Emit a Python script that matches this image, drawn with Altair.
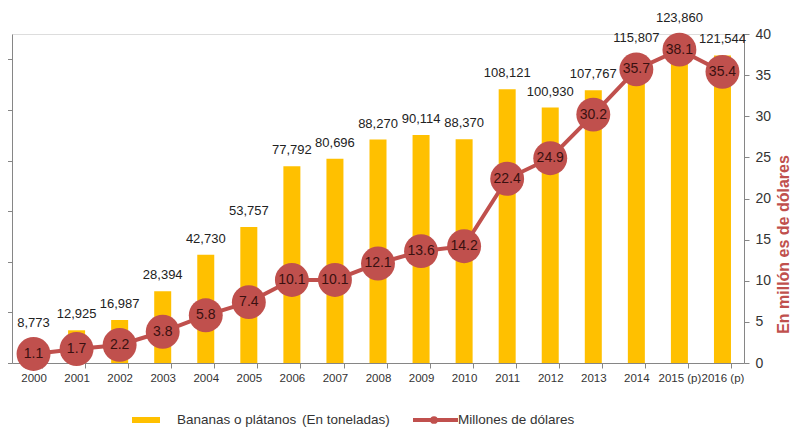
import altair as alt
import pandas as pd

years = ["2000", "2001", "2002", "2003", "2004", "2005", "2006", "2007", "2008",
         "2009", "2010", "2011", "2012", "2013", "2014", "2015 (p)", "2016 (p)"]
toneladas = [8773, 12925, 16987, 28394, 42730, 53757, 77792, 80696, 88270,
             90114, 88370, 108121, 100930, 107767, 115807, 123860, 121544]
millones = [1.1, 1.7, 2.2, 3.8, 5.8, 7.4, 10.1, 10.1, 12.1,
            13.6, 14.2, 22.4, 24.9, 30.2, 35.7, 38.1, 35.4]

left_ticks = [0, 20000, 40000, 60000, 80000, 100000, 120000]
right_ticks = [0, 5, 10, 15, 20, 25, 30, 35, 40]

legend_bar = "Bananas o plátanos"
legend_bar_unit = "(En toneladas)"
legend_line = "Millones de dólares"
right_title = "En millón es de dólares"

df = pd.DataFrame({"year": years, "ton": toneladas, "usd": millones})
df["ton_label"] = [f"{v:,}" for v in toneladas]
df["usd_label"] = [f"{v:.1f}" for v in millones]

GOLD = "#FFC000"
RED = "#C0504D"
GRAY = "#868686"
FONT = "Liberation Sans"

LEFT_MAX = 130000
RIGHT_MAX = 40

x_enc = alt.X("year:N", sort=years, title=None,
              scale=alt.Scale(paddingInner=0.6, paddingOuter=0.3),
              axis=alt.Axis(labelAngle=0, labelFontSize=11.5, labelColor="#333333",
                            domainColor=GRAY, tickColor=GRAY, tickSize=5,
                            tickBand="extent", labelPadding=4, labelFont=FONT))

base = alt.Chart(df)

y_left = alt.Y("ton:Q", title=None,
               scale=alt.Scale(domain=[0, LEFT_MAX], nice=False),
               axis=alt.Axis(values=left_ticks, labels=False, grid=False,
                             domainColor=GRAY, tickColor=GRAY, tickSize=5,
                             orient="left"))

bars = base.mark_bar(color=GOLD, size=17).encode(x=x_enc, y=y_left)
# label sits above the bar, or above the dollar marker when that marker is higher
bar_text = base.transform_calculate(
    lab_pos=f"max(datum.ton, datum.usd * {LEFT_MAX / RIGHT_MAX} + 6000)"
).mark_text(dy=-9, baseline="bottom", fontSize=13, color="#222222",
            font=FONT).encode(
    x=x_enc,
    y=alt.Y("lab_pos:Q", scale=alt.Scale(domain=[0, LEFT_MAX], nice=False)),
    text="ton_label:N")

y_right = alt.Y("usd:Q", title=right_title,
                scale=alt.Scale(domain=[0, RIGHT_MAX], nice=False),
                axis=alt.Axis(values=right_ticks, grid=False, orient="right",
                              domainColor=GRAY, tickColor=GRAY, tickSize=5,
                              labelFontSize=14, labelColor="#333333", labelFont=FONT,
                              labelPadding=6,
                              titleColor=RED, titleFontSize=16, titleFontWeight="bold",
                              titleFont=FONT, titleAngle=270, titleX=39, titleY=210,
                              titleAlign="center", titleBaseline="middle"))

line = base.mark_line(color=RED, strokeWidth=4).encode(x=x_enc, y=y_right)
pts = base.mark_circle(size=1150, color=RED, opacity=1).encode(x=x_enc, y=y_right)
pt_text = base.mark_text(fontSize=14, color="#3a1010", font=FONT,
                         baseline="middle").encode(x=x_enc, y=y_right, text="usd_label:N")

one = pd.DataFrame({"a": [0]})
lg = alt.Chart(one)
leg_rect = lg.mark_rect(color=GOLD).encode(
    x=alt.value(120), x2=alt.value(148), y=alt.value(383), y2=alt.value(389))
leg_t1 = lg.mark_text(align="left", baseline="middle", fontSize=13.5, color="#333333",
                      font=FONT).encode(x=alt.value(165), y=alt.value(386),
                                        text=alt.value(legend_bar))
leg_t2 = lg.mark_text(align="left", baseline="middle", fontSize=13.5, color="#333333",
                      font=FONT).encode(x=alt.value(290), y=alt.value(386),
                                        text=alt.value(legend_bar_unit))
leg_line = lg.mark_rule(color=RED, strokeWidth=4).encode(
    x=alt.value(401), x2=alt.value(446), y=alt.value(386))
leg_pt = lg.mark_circle(color=RED, size=60, opacity=1).encode(
    x=alt.value(422), y=alt.value(386))
leg_t3 = lg.mark_text(align="left", baseline="middle", fontSize=13.5, color="#333333",
                      font=FONT).encode(x=alt.value(446), y=alt.value(386),
                                        text=alt.value(legend_line))

left_layer = alt.layer(bars, bar_text)
right_layer = alt.layer(line, pts, pt_text)

chart = alt.layer(left_layer, right_layer, leg_rect, leg_t1, leg_t2, leg_line,
                  leg_pt, leg_t3).resolve_scale(y="independent").properties(
    width=732, height=329,
    padding={"left": 4, "top": 26, "right": 48, "bottom": 74},
    autosize="none",
).configure_view(stroke=None).configure(font=FONT, background="white")

chart.save("out.html", embed_options={"renderer": "svg", "actions": False})
